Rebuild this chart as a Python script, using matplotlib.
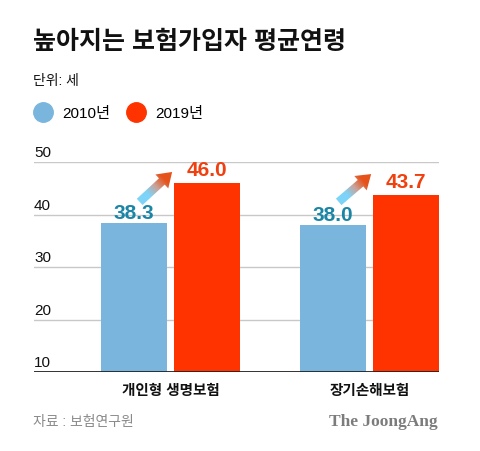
import numpy as np
import matplotlib
matplotlib.use('Agg')
import matplotlib.pyplot as plt
from matplotlib.patches import FancyArrow
from matplotlib.lines import Line2D
from matplotlib.colors import LinearSegmentedColormap

plt.rcParams['font.family'] = ['Liberation Sans', 'Noto Sans CJK KR', 'DejaVu Sans']

categories = ['개인형 생명보험', '장기손해보험']
series_names = ['2010년', '2019년']
values_2010 = [38.3, 38.0]
values_2019 = [46.0, 43.7]
yticks = [10, 20, 30, 40, 50]

blue = '#7ab5dd'
red = '#ff3300'
blue_txt = '#1b85a6'
red_txt = '#f0400f'

W, H = 480, 452
fig = plt.figure(figsize=(W / 100, H / 100), dpi=100)
ax = fig.add_axes([34 / W, 79 / H, 405 / W, 210 / H])

x = np.arange(len(categories))
bw = 0.332
off = 0.183
ax.bar(x - off, np.array(values_2010) - 10, bw, bottom=10, color=blue, zorder=2)
ax.bar(x + off, np.array(values_2019) - 10, bw, bottom=10, color=red, zorder=2)

ax.set_xlim(-0.686, 1.349)
ax.set_ylim(10, 50)
for s in ax.spines.values():
    s.set_visible(False)
for t in yticks[1:]:
    ax.axhline(t, color='#c8c8c8', lw=1, zorder=1)
ax.axhline(10, color='#222222', lw=1.3, zorder=3)
ax.set_yticks([])
for t in yticks:
    ax.text(-0.686, t + 0.55, str(t), fontsize=11, ha='left', va='bottom', color='#111111')

ax.set_xticks(x)
ax.set_xticklabels(categories, fontsize=10.5, fontweight='bold', color='#111111')
ax.tick_params(axis='x', length=0, pad=8)

for i in range(len(categories)):
    ax.text(x[i] - off, values_2010[i] + 0.25, f'{values_2010[i]:.1f}', ha='center', va='bottom',
            fontsize=15, fontweight='bold', color=blue_txt, zorder=4)
    ax.text(x[i] + off, values_2019[i] + 0.8, f'{values_2019[i]:.1f}', ha='center', va='bottom',
            fontsize=15, fontweight='bold', color=red_txt, zorder=4)

# overlay in pixel coordinates for gradient arrows
ov = fig.add_axes([0, 0, 1, 1], zorder=5)
ov.axis('off')

fig.canvas.draw()
grad = LinearSegmentedColormap.from_list('g', ['#7dd4f8', '#7dd4f8', '#c9a39a', '#e6521a', '#e6521a'])
arrow_tail = [42.4, 42.4]
arrow_tip = [48.1, 47.7]
for i in range(len(categories)):
    p0 = ax.transData.transform((x[i] - 0.155, arrow_tail[i]))
    p1 = ax.transData.transform((x[i] + 0.008, arrow_tip[i]))
    d = p1 - p0
    arr = FancyArrow(p0[0], p0[1], d[0], d[1], width=8.5, head_width=19, head_length=14,
                     length_includes_head=True, facecolor='none', edgecolor='none')
    ov.add_patch(arr)
    x0, x1 = p0[0] - 12, p1[0] + 12
    y0, y1 = p0[1] - 12, p1[1] + 12
    gx, gy = np.meshgrid(np.linspace(x0, x1, 120), np.linspace(y0, y1, 120))
    tt = ((gx - p0[0]) * d[0] + (gy - p0[1]) * d[1]) / (d @ d)
    im = ov.imshow(np.clip(tt, 0, 1), cmap=grad, vmin=0, vmax=1, extent=[x0, x1, y0, y1],
                   origin='lower', aspect='auto', zorder=5)
    im.set_clip_path(arr)
ov.set_xlim(0, W)
ov.set_ylim(0, H)

fig.text(33 / W, 1 - 42 / H, '높아지는 보험가입자 평균연령', fontsize=18, fontweight='heavy',
         va='center', ha='left', color='#111111')
fig.text(33 / W, 1 - 81 / H, '단위: 세', fontsize=10, fontweight='medium', va='center', ha='left',
         color='#111111')

handles = [Line2D([], [], ls='none', marker='o', markersize=14, color=blue),
           Line2D([], [], ls='none', marker='o', markersize=14, color=red)]
fig.legend(handles, series_names, loc='center left', bbox_to_anchor=(34 / W, 1 - 114 / H),
           ncol=2, frameon=False, fontsize=11, handlelength=1.2, handletextpad=0.65,
           columnspacing=1.1, borderpad=0, borderaxespad=0)

fig.text(33 / W, 1 - 422 / H, '자료 : 보험연구원', fontsize=10, va='center', ha='left', color='#8a8a8a')
fig.text(438 / W, 1 - 422 / H, 'The JoongAng', fontsize=12.5, fontweight='bold', va='center',
         ha='right', color='#7c7c7c', family='Liberation Serif')

fig.savefig('out.png', dpi=100)
